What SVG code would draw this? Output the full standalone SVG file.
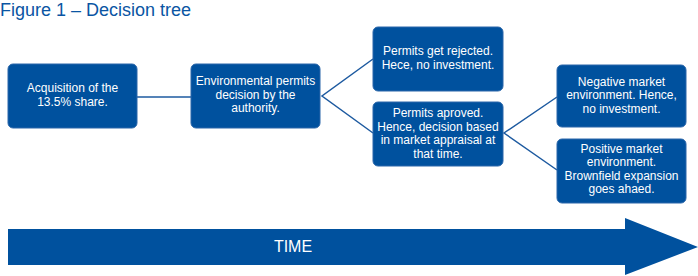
<svg xmlns="http://www.w3.org/2000/svg" width="698" height="276" viewBox="0 0 698 276">
<style>
.box{fill:#00519e;stroke:#2a66aa;stroke-width:1}
.t{font-family:"Liberation Sans",Arial,sans-serif;font-size:12px;fill:#ffffff;text-anchor:middle}
.title{font-family:"Liberation Sans",Arial,sans-serif;font-size:18px;fill:#0a55a3}
.c{stroke:#1d5aa0;stroke-width:1.5;fill:none}
</style>
<rect width="698" height="276" fill="#ffffff"/>
<text class="title" x="0" y="16">Figure 1 – Decision tree</text>
<g id="connectors">
<line class="c" x1="137" y1="97" x2="191" y2="97"/>
<polyline class="c" points="373,59 322,96 373,133"/>
<polyline class="c" points="557,97 504,133 557,170"/>
</g>
<g id="n1"><rect class="box" x="8" y="64" width="129" height="64" rx="5"/>
<text class="t" x="72.5" y="92.3">Acquisition of the</text><text class="t" x="72.5" y="105.8">13.5% share.</text></g>
<g id="n2"><rect class="box" x="191" y="64" width="129" height="64" rx="5"/>
<text class="t" x="255.5" y="85.2">Environmental permits</text><text class="t" x="255.5" y="98.7">decision by the</text><text class="t" x="255.5" y="112.2">authority.</text></g>
<g id="n3"><rect class="box" x="373" y="27" width="130" height="64" rx="5"/>
<text class="t" x="438" y="55.3">Permits get rejected.</text><text class="t" x="438" y="68.8">Hece, no investment.</text></g>
<g id="n4"><rect class="box" x="373" y="102" width="130" height="64" rx="5"/>
<text class="t" x="438" y="117.3">Permits aproved.</text><text class="t" x="438" y="130.8">Hence, decision based</text><text class="t" x="438" y="144.3">in market appraisal at</text><text class="t" x="438" y="157.8">that time.</text></g>
<g id="n5"><rect class="box" x="557" y="65" width="129" height="62" rx="5"/>
<text class="t" x="621.5" y="85.8">Negative market</text><text class="t" x="621.5" y="99.3">environment. Hence,</text><text class="t" x="621.5" y="112.8">no investment.</text></g>
<g id="n6"><rect class="box" x="557" y="139" width="129" height="64" rx="5"/>
<text class="t" x="621.5" y="152.8">Positive market</text><text class="t" x="621.5" y="166.3">environment.</text><text class="t" x="621.5" y="179.8">Brownfield expansion</text><text class="t" x="621.5" y="193.3">goes ahaed.</text></g>
<g id="time">
<polygon points="8,229 625,229 625,218 698,247 625,275 625,265 8,265" fill="#00519e"/>
<text x="293" y="252" font-family="'Liberation Sans',Arial,sans-serif" font-size="16" fill="#ffffff" text-anchor="middle">TIME</text>
</g>
</svg>
